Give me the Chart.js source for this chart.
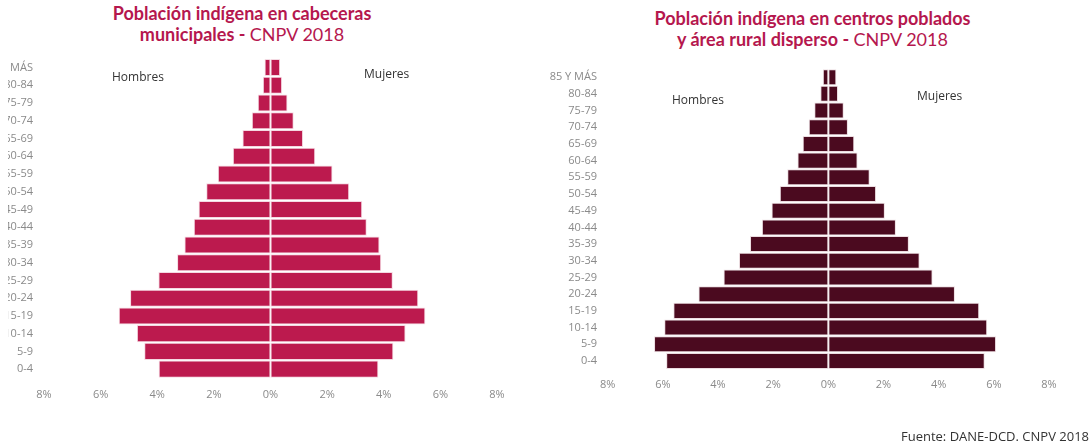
<!DOCTYPE html>
<html>
<head>
<meta charset="utf-8">
<script src="https://cdn.jsdelivr.net/npm/chart.js@4.4.1/dist/chart.umd.min.js"></script>
<style>
    html, body { margin: 0; padding: 0; background: #fff; }
    body { width: 1091px; height: 446px; position: relative; overflow: hidden; font-family: "Open Sans", sans-serif; }
    canvas { position: absolute; top: 0; }
    /* left picture is cropped a few pixels into its axis labels */
    #leftWrap { position: absolute; left: 8px; top: 0; width: 560px; height: 446px; overflow: hidden; }
    #leftChart { left: -48px; }
    #rightChart { left: 530px; }
    .title { position: absolute; text-align: center; font-family: Lato, sans-serif; font-size: 18px; line-height: 21px; color: #b5174e; font-weight: bold; }
    .title span { font-weight: normal; }
    .sex { position: absolute; font-size: 12px; color: #333; }
    #fuente { position: absolute; right: 2px; top: 427px; font-size: 13px; color: #333; }
</style>
</head>
<body>
<div class="title" style="left:0; width:484px; top:3px;">Población indígena en cabeceras<br>municipales - <span>CNPV 2018</span></div>
<div class="title" style="left:560px; width:505px; top:8px;">Población indígena en centros poblados<br>y área rural disperso - <span>CNPV 2018</span></div>

<div id="leftWrap"><canvas id="leftChart" width="600" height="446"></canvas></div>
<canvas id="rightChart" width="561" height="446"></canvas>

<div class="sex" style="left:112px; top:68px;">Hombres</div>
<div class="sex" style="left:364px; top:65px;">Mujeres</div>
<div class="sex" style="left:672px; top:91px;">Hombres</div>
<div class="sex" style="left:917px; top:87px;">Mujeres</div>
<div id="fuente">Fuente: DANE-DCD. CNPV 2018</div>

<script>
// Age groups, top to bottom
const ageGroups = ["85 Y MÁS", "80-84", "75-79", "70-74", "65-69", "60-64", "55-59", "50-54", "45-49",
    "40-44", "35-39", "30-34", "25-29", "20-24", "15-19", "10-14", "5-9", "0-4"];

// Cabeceras municipales (% of population)
const cabecerasHombres = [0.21, 0.27, 0.45, 0.66, 0.99, 1.33, 1.86, 2.27, 2.54, 2.71, 3.04, 3.30, 3.96, 4.96, 5.36, 4.72, 4.46, 3.95];
const cabecerasMujeres = [0.34, 0.41, 0.60, 0.82, 1.15, 1.58, 2.19, 2.78, 3.24, 3.40, 3.85, 3.91, 4.32, 5.22, 5.47, 4.77, 4.34, 3.81];

// Centros poblados y rural disperso (% of population)
const ruralHombres = [0.20, 0.29, 0.51, 0.71, 0.93, 1.12, 1.49, 1.76, 2.06, 2.41, 2.84, 3.24, 3.80, 4.71, 5.62, 5.95, 6.32, 5.88];
const ruralMujeres = [0.29, 0.35, 0.56, 0.71, 0.94, 1.06, 1.50, 1.73, 2.05, 2.45, 2.92, 3.31, 3.78, 4.59, 5.47, 5.76, 6.08, 5.67];

// x axis ticks every 2%, from -8 to 8
const xMax = 8;
const xStep = 2;

function renderPyramid(canvasId, hombres, mujeres, color, border, box) {
    const ctx = document.getElementById(canvasId).getContext("2d");
    const barStyle = {
        backgroundColor: color,
        borderColor: border,
        borderWidth: 1,
        borderSkipped: false,
        barPercentage: 0.96,
        categoryPercentage: 1,
    };
    new Chart(ctx, {
        type: "bar",
        data: {
            labels: ageGroups,
            datasets: [
                { label: "Hombres", data: hombres.map(v => -v), ...barStyle },
                { label: "Mujeres", data: mujeres, ...barStyle },
            ],
        },
        options: {
            indexAxis: "y",
            responsive: false,
            animation: false,
            layout: { padding: box.padding },
            plugins: { legend: { display: false }, tooltip: { enabled: false } },
            scales: {
                x: {
                    stacked: true,
                    min: -xMax,
                    max: xMax,
                    grid: { display: false, drawTicks: false },
                    border: { display: false },
                    ticks: {
                        stepSize: xStep,
                        padding: box.xPad,
                        color: "#8a8a8a",
                        font: { family: "Open Sans", size: 11 },
                        callback: v => Math.abs(v) + "%",
                    },
                    afterFit: s => { s.height = 40; },
                },
                y: {
                    stacked: true,
                    grid: { display: false, drawTicks: false },
                    border: { display: false },
                    ticks: {
                        padding: box.yPad,
                        color: "#8a8a8a",
                        font: { family: "Open Sans", size: 11 },
                        autoSkip: false,
                    },
                    afterFit: s => { s.width = box.yWidth; },
                },
            },
        },
    });
}

renderPyramid("leftChart", cabecerasHombres, cabecerasMujeres, "#bc1a4e", "#f4d9e2", {
    padding: { left: 0, top: 58.6, right: 63, bottom: 28 },
    yWidth: 84, yPad: 11, xPad: 10,
});

renderPyramid("rightChart", ruralHombres, ruralMujeres, "#4b0a1f", "#ecdde1", {
    padding: { left: 0, top: 68.8, right: 42, bottom: 36.7 },
    yWidth: 77.7, yPad: 10.7, xPad: 9,
});
</script>
</body>
</html>
